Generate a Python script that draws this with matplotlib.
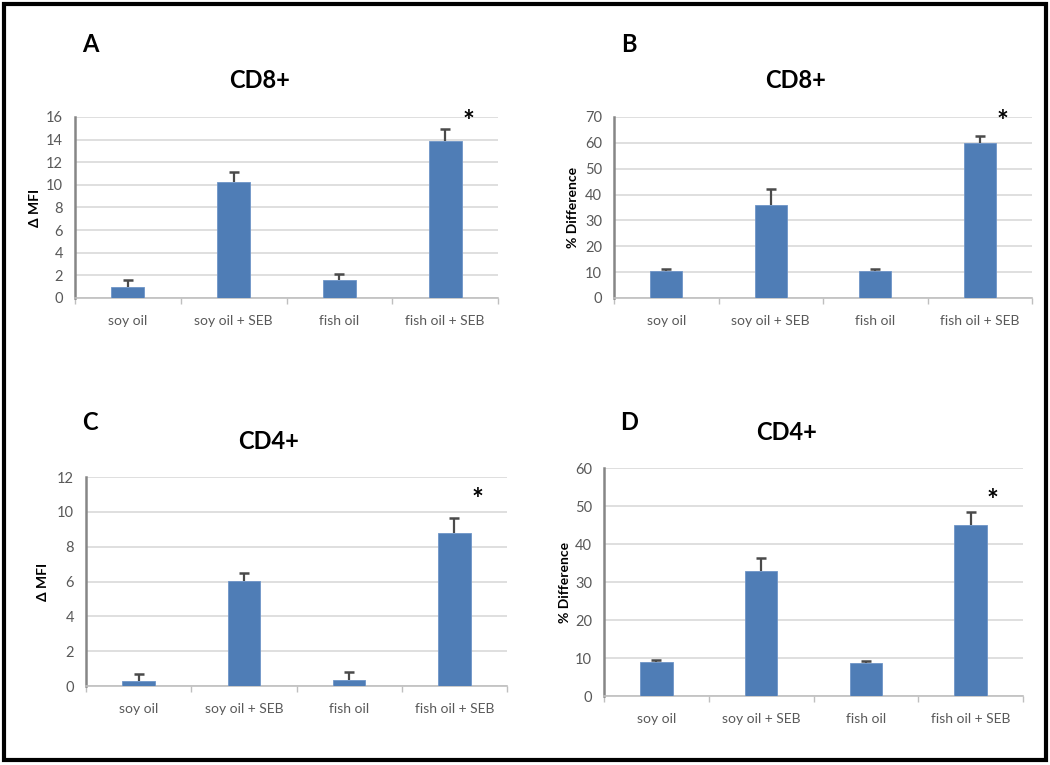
import matplotlib
matplotlib.use("Agg")
import matplotlib.pyplot as plt
from matplotlib.patches import Rectangle

categories = ["soy oil", "soy oil + SEB", "fish oil", "fish oil + SEB"]

cd8_mfi = [1.0, 10.25, 1.6, 13.9]
cd8_mfi_err = [0.55, 0.85, 0.55, 1.0]
cd8_pct = [10.5, 36.0, 10.5, 60.0]
cd8_pct_err = [0.8, 6.3, 0.7, 2.7]
cd4_mfi = [0.3, 6.05, 0.35, 8.8]
cd4_mfi_err = [0.4, 0.45, 0.45, 0.85]
cd4_pct = [9.0, 33.0, 8.8, 45.0]
cd4_pct_err = [0.4, 3.2, 0.5, 3.5]

panel_letters = ["A", "B", "C", "D"]
panel_titles = ["CD8+", "CD8+", "CD4+", "CD4+"]
ylabels = ["\u0394 MFI", "% Difference", "\u0394 MFI", "% Difference"]
ymax = [16, 70, 12, 60]
ystep = [2, 10, 2, 10]

plt.rcParams['font.family'] = ['Lato', 'DejaVu Sans']

W, H = 1050, 765
fig = plt.figure(figsize=(10.5, 7.65), dpi=100)

def fx(px):
    return px / W

def fy(py):
    return 1 - py / H

# axes boxes in pixels: left, right, top, bottom
boxes = [(75, 498, 117, 298), (614, 1032, 117, 298),
         (86, 507, 477, 686), (604, 1023, 468, 696)]
letter_pos = [(90, 45), (629, 45), (90, 423), (629, 423)]
title_pos = [(260, 80), (796, 80), (269, 442), (787, 432)]
star_pos = [(468, 122), (1002, 122), (477, 500), (992, 501)]
ylabel_x = [41, 579, 49, 571]

vals = [cd8_mfi, cd8_pct, cd4_mfi, cd4_pct]
errs = [cd8_mfi_err, cd8_pct_err, cd4_mfi_err, cd4_pct_err]

bar_color = "#4F7DB6"
tick_color = "#595959"

for i in range(4):
    l, r, t, b = boxes[i]
    ax = fig.add_axes([fx(l), fy(b), fx(r - l), (b - t) / H])
    x = list(range(len(categories)))
    ax.bar(x, vals[i], width=0.31, color=bar_color, edgecolor="#6F95C8",
           linewidth=0.6, zorder=3)
    tops = [v + e for v, e in zip(vals[i], errs[i])]
    ax.vlines(x, vals[i], tops, color="#4A4A4A", linewidth=1.6, zorder=4)
    ax.plot(x, tops, linestyle="none", marker="_", markersize=7,
            markeredgewidth=1.8, color="#4A4A4A", zorder=4)
    ax.set_xlim(-0.5, 3.5)
    ax.set_ylim(0, ymax[i])
    ax.set_yticks(range(0, ymax[i] + 1, ystep[i]))
    ax.set_xticks(x)
    ax.set_xticklabels(categories)
    ax.set_xticks([-0.5, 0.5, 1.5, 2.5, 3.5], minor=True)
    ax.tick_params(axis="x", which="major", length=0, pad=12,
                   labelsize=10, labelcolor=tick_color)
    ax.tick_params(axis="x", which="minor", length=4, color="#BFBFBF",
                   width=1)
    ax.tick_params(axis="y", length=0, pad=8.5, labelsize=10.5,
                   labelcolor=tick_color)
    ax.grid(axis="y", color="#D9D9D9", linewidth=1.2, zorder=0)
    ax.set_axisbelow(True)
    for s in ["top", "right"]:
        ax.spines[s].set_visible(False)
    ax.spines["left"].set_color("#868686")
    ax.spines["left"].set_linewidth(1.8)
    ax.spines["bottom"].set_color("#BFBFBF")
    ax.spines["bottom"].set_linewidth(1.2)
    ax.set_ylabel(ylabels[i], fontsize=10, fontweight="bold", color="black")
    ax.yaxis.set_label_coords((ylabel_x[i] - l) / (r - l), 0.5)

    lx, ly = letter_pos[i]
    fig.text(fx(lx), fy(ly), panel_letters[i], fontsize=17, fontweight="bold",
             ha="center", va="center")
    tx, ty = title_pos[i]
    fig.text(fx(tx), fy(ty), panel_titles[i], fontsize=17, fontweight="bold",
             ha="center", va="center")
    sx, sy = star_pos[i]
    fig.text(fx(sx), fy(sy), "*", fontsize=20, fontweight="bold",
             ha="center", va="center")

# outer frame
fig.patches.append(Rectangle((fx(4), fy(760)), fx(1042), (756) / H,
                             transform=fig.transFigure, fill=False,
                             edgecolor="black", linewidth=3))

fig.savefig("out.png", dpi=100)
